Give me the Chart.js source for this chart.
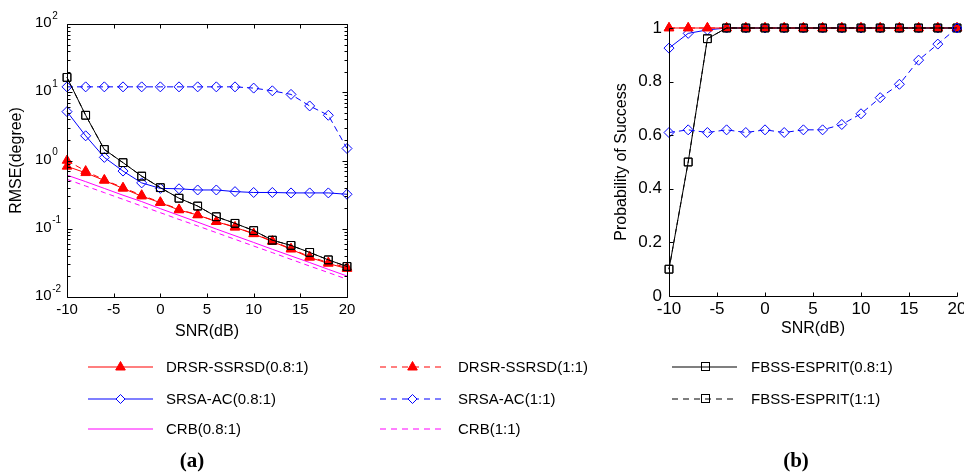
<!DOCTYPE html>
<html><head><meta charset="utf-8">
<script src="https://cdn.jsdelivr.net/npm/chart.js@4/dist/chart.umd.min.js"></script>
<style>
html,body{margin:0;padding:0;background:#fff;width:964px;height:473px;overflow:hidden;position:relative;font-family:"Liberation Sans",Arial,sans-serif;}
canvas{position:absolute;top:0;}
#ca{left:0}
#cb{left:580px}
#lgc{left:0;top:340px}
.lgt{position:absolute;font-size:15px;color:#000;white-space:nowrap;height:20px;line-height:20px;}
.cap{position:absolute;font-family:"Liberation Serif","DejaVu Serif",serif;font-weight:bold;font-size:21px;transform:translate(-50%,-50%);}
</style></head><body>
<canvas id="ca" width="380" height="345"></canvas>
<canvas id="cb" width="420" height="345"></canvas>
<canvas id="lgc" width="964" height="110"></canvas>
<div id="legend"></div>
<div class="cap" style="left:192px;top:460px">(a)</div>
<div class="cap" style="left:796px;top:460px">(b)</div>
<script>
// ---------- data ----------
const snr = [-10,-8,-6,-4,-2,0,2,4,6,8,10,12,14,16,18,20];
const snrTicks = [-10,-5,0,5,10,15,20];
const rmseDecades = [0.01,0.1,1,10,100];
const rmseExponents = ['-2','-1','0','1','2'];
const probTicks = [0,0.2,0.4,0.6,0.8,1];

const seriesNames = ['DRSR-SSRSD(0.8:1)','DRSR-SSRSD(1:1)','SRSA-AC(0.8:1)','SRSA-AC(1:1)','CRB(0.8:1)','CRB(1:1)','FBSS-ESPRIT(0.8:1)','FBSS-ESPRIT(1:1)'];

// (a) RMSE (degree)
const rmseDRSR08 = [0.82,0.66,0.51,0.39,0.30,0.241,0.188,0.159,0.127,0.105,0.084,0.065,0.050,0.038,0.031,0.026];
const rmseDRSR11 = [1.0,0.70,0.52,0.40,0.31,0.245,0.192,0.160,0.128,0.106,0.085,0.066,0.051,0.039,0.032,0.027];
const rmseSRSA08 = [5.2,2.3,1.11,0.70,0.47,0.39,0.385,0.37,0.37,0.35,0.34,0.34,0.335,0.335,0.335,0.32];
const rmseSRSA11 = [12,12,12,12,12,12,12,12,12,12,11.5,10.5,9.3,6.3,4.6,1.5];
const rmseCRB08  = [0.61,0.49,0.39,0.31,0.25,0.197,0.157,0.125,0.099,0.079,0.063,0.050,0.040,0.032,0.0254,0.0203];
const rmseCRB11  = [0.53,0.423,0.338,0.27,0.215,0.172,0.137,0.110,0.0877,0.070,0.0558,0.0447,0.0356,0.0284,0.0228,0.0182];
const rmseFBSS08 = [16.5,4.6,1.45,0.93,0.59,0.40,0.28,0.215,0.150,0.120,0.094,0.068,0.057,0.045,0.035,0.028];
const rmseFBSS11 = [16.5,4.6,1.45,0.93,0.59,0.40,0.28,0.215,0.150,0.120,0.094,0.068,0.057,0.045,0.035,0.028];

// (b) probability of success
const probDRSR08 = [1,1,1,1,1,1,1,1,1,1,1,1,1,1,1,1];
const probDRSR11 = [1,1,1,1,1,1,1,1,1,1,1,1,1,1,1,1];
const probSRSA08 = [0.925,0.98,0.993,1,1,1,1,1,1,1,1,1,1,1,1,1];
const probSRSA11 = [0.61,0.62,0.61,0.62,0.61,0.62,0.61,0.62,0.62,0.64,0.68,0.74,0.79,0.88,0.94,1.0];
const probFBSS08 = [0.10,0.50,0.96,1,1,1,1,1,1,1,1,1,1,1,1,1];
const probFBSS11 = [0.10,0.50,0.96,1,1,1,1,1,1,1,1,1,1,1,1,1];

// ---------- styles ----------
const FONT = '"Liberation Sans", Arial, sans-serif';
const styles = {
  'DRSR-SSRSD(0.8:1)': {color:'#ff0000', dash:[],    marker:'triangle', r:5.5, fill:true},
  'DRSR-SSRSD(1:1)':   {color:'#ff0000', dash:[6,4], marker:'triangle', r:5.5, fill:true},
  'SRSA-AC(0.8:1)':    {color:'#0000ff', dash:[],    marker:'rectRot',  r:5,   fill:false},
  'SRSA-AC(1:1)':      {color:'#0000ff', dash:[6,4], marker:'rectRot',  r:5,   fill:false},
  'CRB(0.8:1)':        {color:'#ff00ff', dash:[],    marker:null},
  'CRB(1:1)':          {color:'#ff00ff', dash:[5,4], marker:null},
  'FBSS-ESPRIT(0.8:1)':{color:'#000000', dash:[],    marker:'rect',     r:5.5, fill:false},
  'FBSS-ESPRIT(1:1)':  {color:'#000000', dash:[5,4], marker:'rect',     r:5.5, fill:false}
};

function ds(name, vals, order) {
  const s = styles[name];
  return {
    label: name,
    data: snr.map((x, i) => ({x: x, y: vals[i]})),
    borderColor: s.color, borderWidth: 1, borderDash: s.dash,
    pointStyle: s.marker || 'circle', pointRadius: s.marker ? s.r : 0, pointHoverRadius: s.marker ? s.r : 0,
    pointBackgroundColor: s.fill ? s.color : 'rgba(0,0,0,0)', pointBorderColor: s.color, pointBorderWidth: 1,
    tension: 0, clip: false, order: order, fill: false
  };
}

// ---------- plugins ----------
const decor = {
  id: 'decor',
  afterDatasetsDraw(chart, args, o) {
    const {ctx, chartArea: a} = chart;
    const xs = chart.scales.x, ys = chart.scales.y;
    const P = v => Math.round(v) + 0.5;
    const L = P(a.left), R = P(a.right), T = P(a.top), B = P(a.bottom);
    ctx.save();
    ctx.strokeStyle = '#000'; ctx.lineWidth = 1; ctx.setLineDash([]);
    ctx.beginPath();
    ctx.moveTo(L, T); ctx.lineTo(L, B); ctx.lineTo(R, B);
    if (o.box) { ctx.lineTo(R, T); ctx.lineTo(L, T); }
    ctx.stroke();
    ctx.beginPath();
    for (const v of o.xTicks) {
      const px = P(xs.getPixelForValue(v));
      ctx.moveTo(px, B); ctx.lineTo(px, B - o.len);
      if (o.box) { ctx.moveTo(px, T); ctx.lineTo(px, T + o.len); }
    }
    for (const v of o.yTicks) {
      const py = P(ys.getPixelForValue(v));
      ctx.moveTo(L, py); ctx.lineTo(L + o.ylen, py);
      if (o.box) { ctx.moveTo(R, py); ctx.lineTo(R - o.ylen, py); }
    }
    if (o.minor) {
      for (const d of o.yTicks) {
        for (let k = 2; k <= 9; k++) {
          const v = d * k;
          if (v >= ys.max) continue;
          const py = P(ys.getPixelForValue(v));
          ctx.moveTo(L, py); ctx.lineTo(L + o.mlen, py);
          ctx.moveTo(R, py); ctx.lineTo(R - o.mlen, py);
        }
      }
    }
    ctx.stroke();
    if (o.powLabels) {
      ctx.fillStyle = '#000';
      ctx.textBaseline = 'alphabetic';
      ctx.textAlign = 'left';
      const x0 = a.left - 32;
      rmseDecades.forEach((v, i) => {
        const py = ys.getPixelForValue(v);
        ctx.font = '15px ' + FONT;
        const w = ctx.measureText('10').width;
        ctx.fillText('10', x0, py + 3);
        ctx.font = '10px ' + FONT;
        ctx.fillText(rmseExponents[i], x0 + w + 0.5, py - 5.5);
      });
    }
    ctx.restore();
  }
};

Chart.defaults.font.family = FONT;
Chart.defaults.color = '#000';

// ---------- chart (a) ----------
new Chart(document.getElementById('ca'), {
  type: 'line',
  data: { datasets: [
    ds('CRB(1:1)', rmseCRB11, 8),
    ds('CRB(0.8:1)', rmseCRB08, 7),
    ds('SRSA-AC(0.8:1)', rmseSRSA08, 6),
    ds('SRSA-AC(1:1)', rmseSRSA11, 5),
    ds('DRSR-SSRSD(1:1)', rmseDRSR11, 4),
    ds('DRSR-SSRSD(0.8:1)', rmseDRSR08, 3),
    ds('FBSS-ESPRIT(1:1)', rmseFBSS11, 2),
    ds('FBSS-ESPRIT(0.8:1)', rmseFBSS08, 1)
  ]},
  options: {
    responsive: false, animation: false, devicePixelRatio: 1,
    layout: { padding: {left: 0, top: 24, right: 33, bottom: 0} },
    plugins: { legend: {display: false}, tooltip: {enabled: false},
      decor: { box: true, xTicks: snrTicks, yTicks: rmseDecades, len: 4, ylen: 5, mlen: 3, minor: true, powLabels: true } },
    scales: {
      x: { type: 'linear', min: -10, max: 20,
        afterBuildTicks: s => { s.ticks = snrTicks.map(v => ({value: v})); },
        ticks: { font: {size: 15}, padding: 4, color: '#000', maxRotation: 0, autoSkip: false },
        grid: { display: false, drawTicks: false }, border: { display: false },
        title: { display: true, text: 'SNR(dB)', font: {size: 16}, color: '#000', padding: {top: 0, bottom: 4} },
        afterFit: s => { s.height = 48; } },
      y: { type: 'logarithmic', min: 0.01, max: 100,
        ticks: { display: false },
        grid: { display: false, drawTicks: false }, border: { display: false },
        title: { display: true, text: 'RMSE(degree)', font: {size: 16}, color: '#000', padding: {top: 7, bottom: 0} },
        afterFit: s => { s.width = 67; } }
    }
  },
  plugins: [decor]
});

// ---------- chart (b) ----------
new Chart(document.getElementById('cb'), {
  type: 'line',
  data: { datasets: [
    ds('SRSA-AC(0.8:1)', probSRSA08, 6),
    ds('DRSR-SSRSD(1:1)', probDRSR11, 5),
    ds('DRSR-SSRSD(0.8:1)', probDRSR08, 4),
    ds('FBSS-ESPRIT(1:1)', probFBSS11, 3),
    ds('FBSS-ESPRIT(0.8:1)', probFBSS08, 2),
    ds('SRSA-AC(1:1)', probSRSA11, 1)
  ]},
  options: {
    responsive: false, animation: false, devicePixelRatio: 1,
    layout: { padding: {left: 0, top: 28, right: 43, bottom: 0} },
    plugins: { legend: {display: false}, tooltip: {enabled: false},
      decor: { box: false, xTicks: snrTicks, yTicks: probTicks, len: 4, ylen: 4, minor: false, powLabels: false } },
    scales: {
      x: { type: 'linear', min: -10, max: 20,
        afterBuildTicks: s => { s.ticks = snrTicks.map(v => ({value: v})); },
        ticks: { font: {size: 17}, padding: 3, color: '#000', maxRotation: 0, autoSkip: false },
        grid: { display: false, drawTicks: false }, border: { display: false },
        title: { display: true, text: 'SNR(dB)', font: {size: 16}, color: '#000', padding: {top: 0, bottom: 7} },
        afterFit: s => { s.height = 49; } },
      y: { type: 'linear', min: 0, max: 1,
        afterBuildTicks: s => { s.ticks = probTicks.map(v => ({value: v})); },
        ticks: { font: {size: 17}, padding: 7, color: '#000', callback: v => String(Number(Number(v).toFixed(2))) },
        grid: { display: false, drawTicks: false }, border: { display: false },
        title: { display: true, text: 'Probability of Success', font: {size: 16}, color: '#000', padding: {top: 32, bottom: 0} },
        afterFit: s => { s.width = 89; } }
    }
  },
  plugins: [decor]
});

// ---------- legend ----------
const legendCols = [{line: 88, text: 166}, {line: 380, text: 458}, {line: 672, text: 751}];
const legendRows = [367, 399, 429];
const legendLayout = [
  ['DRSR-SSRSD(0.8:1)', 0, 0], ['DRSR-SSRSD(1:1)', 1, 0], ['FBSS-ESPRIT(0.8:1)', 2, 0],
  ['SRSA-AC(0.8:1)', 0, 1], ['SRSA-AC(1:1)', 1, 1], ['FBSS-ESPRIT(1:1)', 2, 1],
  ['CRB(0.8:1)', 0, 2], ['CRB(1:1)', 1, 2]
];
const lgc = document.getElementById('lgc');
const lctx = lgc.getContext('2d');
const OY = 340;
const lg = document.getElementById('legend');
for (const [name, c, r] of legendLayout) {
  const s = styles[name];
  const x0 = legendCols[c].line, y = legendRows[r] - OY;
  lctx.save();
  lctx.strokeStyle = s.color; lctx.lineWidth = 1.2;
  lctx.setLineDash(s.dash.length ? [6, 5] : []);
  lctx.beginPath(); lctx.moveTo(x0, y); lctx.lineTo(x0 + 65, y); lctx.stroke();
  lctx.setLineDash([]);
  lctx.lineWidth = 1;
  const cx = x0 + 32.5;
  if (s.marker === 'triangle') {
    lctx.beginPath();
    lctx.moveTo(cx, y - 5.5); lctx.lineTo(cx + 4.8, y + 3); lctx.lineTo(cx - 4.8, y + 3); lctx.closePath();
    lctx.fillStyle = s.color; lctx.fill(); lctx.stroke();
  } else if (s.marker === 'rectRot') {
    lctx.beginPath();
    lctx.moveTo(cx, y - 4.5); lctx.lineTo(cx + 4.5, y); lctx.lineTo(cx, y + 4.5); lctx.lineTo(cx - 4.5, y); lctx.closePath();
    lctx.fillStyle = '#fff'; lctx.fill(); lctx.stroke();
  } else if (s.marker === 'rect') {
    lctx.strokeRect(Math.round(cx - 4) + 0.5, y - 4.5, 8, 8);
  }
  lctx.restore();
  const t = document.createElement('div');
  t.className = 'lgt';
  t.textContent = name;
  t.style.left = legendCols[c].text + 'px';
  t.style.top = (legendRows[r] - 10) + 'px';
  lg.appendChild(t);
}
</script>
</body></html>
